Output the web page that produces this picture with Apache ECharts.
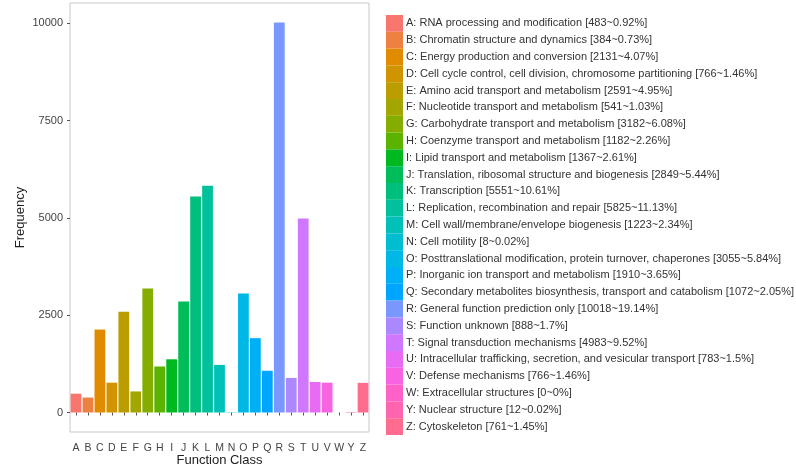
<!DOCTYPE html>
<html>
<head>
<meta charset="utf-8">
<script src="https://cdn.jsdelivr.net/npm/echarts@6/dist/echarts.min.js"></script>
<style>
  html, body { margin: 0; padding: 0; background: #ffffff; }
  #chart { width: 796px; height: 469px; }
</style>
</head>
<body>
<div id="chart"></div>
<script>
// COG functional classes
const classCodes = ['A','B','C','D','E','F','G','H','I','J','K','L','M','N','O','P','Q','R','S','T','U','V','W','Y','Z'];
const classNames = [
  'RNA processing and modification',
  'Chromatin structure and dynamics',
  'Energy production and conversion',
  'Cell cycle control, cell division, chromosome partitioning',
  'Amino acid transport and metabolism',
  'Nucleotide transport and metabolism',
  'Carbohydrate transport and metabolism',
  'Coenzyme transport and metabolism',
  'Lipid transport and metabolism',
  'Translation, ribosomal structure and biogenesis',
  'Transcription',
  'Replication, recombination and repair',
  'Cell wall/membrane/envelope biogenesis',
  'Cell motility',
  'Posttranslational modification, protein turnover, chaperones',
  'Inorganic ion transport and metabolism',
  'Secondary metabolites biosynthesis, transport and catabolism',
  'General function prediction only',
  'Function unknown',
  'Signal transduction mechanisms',
  'Intracellular trafficking, secretion, and vesicular transport',
  'Defense mechanisms',
  'Extracellular structures',
  'Nuclear structure',
  'Cytoskeleton'
];
const classCounts = [483, 384, 2131, 766, 2591, 541, 3182, 1182, 1367, 2849, 5551, 5825, 1223, 8, 3055, 1910, 1072, 10018, 888, 4983, 783, 766, 0, 12, 761];
const classPercents = ['0.92','0.73','4.07','1.46','4.95','1.03','6.08','2.26','2.61','5.44','10.61','11.13','2.34','0.02','5.84','3.65','2.05','19.14','1.7','9.52','1.5','1.46','0','0.02','1.45'];
const yTicks = [0, 2500, 5000, 7500, 10000];

// HCL -> sRGB hex (same conversion as R's grDevices::hcl)
function hclHex(h, c, l) {
  const WY = 100, Wu = 0.1978398, Wv = 0.4683363;
  const rad = h * Math.PI / 180;
  const U = c * Math.cos(rad), V = c * Math.sin(rad);
  const Y = WY * (l > 7.999592 ? Math.pow((l + 16) / 116, 3) : l / 903.3);
  const u = U / (13 * l) + Wu, v = V / (13 * l) + Wv;
  const X = 9 * Y * u / (4 * v);
  const Z = -X / 3 - 5 * Y + 3 * Y / v;
  const g = t => t > 0.00304 ? 1.055 * Math.pow(t, 1 / 2.4) - 0.055 : 12.92 * t;
  const ch = t => Math.round(255 * Math.min(1, Math.max(0, g(t)))).toString(16).padStart(2, '0');
  const r = ( 3.240479 * X - 1.537150 * Y - 0.498535 * Z) / WY;
  const gr = (-0.969256 * X + 1.875992 * Y + 0.041556 * Z) / WY;
  const b = ( 0.055648 * X - 0.204043 * Y + 1.057311 * Z) / WY;
  return '#' + ch(r) + ch(gr) + ch(b);
}
// evenly spaced hue palette
function huePalette(n) {
  const start = 15, end = 375 - 360 / n;
  return Array.from({ length: n }, (_, i) => hclHex(start + (end - start) * i / (n - 1), 100, 65));
}
const palette = huePalette(classCodes.length);

const legendLabels = classCodes.map((c, i) => `${c}: ${classNames[i]} [${classCounts[i]}~${classPercents[i]}%]`);

const maxCount = Math.max(...classCounts);
const yMin = -0.05 * maxCount, yMax = 1.05 * maxCount;

const series = classCodes.map((c, i) => ({
  name: legendLabels[i],
  type: 'bar',
  barGap: '-100%',
  barCategoryGap: '10%',
  itemStyle: { color: palette[i] },
  emphasis: { disabled: true },
  data: classCounts.map((v, j) => (j === i ? v : '-'))
}));

const FONT = 'Liberation Sans, Arial, sans-serif';
const chart = echarts.init(document.getElementById('chart'), null, { renderer: 'canvas' });
chart.setOption({
  animation: false,
  backgroundColor: '#ffffff',
  textStyle: { fontFamily: FONT },
  grid: {
    left: 70, top: 3, width: 299, height: 429,
    outerBoundsMode: 'none',
    containLabel: false,
    show: true, borderColor: '#c8c8c8', borderWidth: 1, backgroundColor: 'transparent'
  },
  xAxis: {
    type: 'category',
    data: classCodes,
    name: 'Function Class',
    nameLocation: 'middle',
    nameGap: 22,
    nameMoveOverlap: false,
    nameTextStyle: { fontSize: 13, color: '#222', fontFamily: FONT },
    axisLine: { show: false },
    axisTick: { show: true, alignWithLabel: true, length: 3, lineStyle: { color: '#555' } },
    axisLabel: { interval: 0, fontSize: 10.5, color: '#444', margin: 11, fontFamily: FONT },
    splitLine: { show: false }
  },
  yAxis: {
    type: 'value',
    min: yMin,
    max: yMax,
    name: 'Frequency',
    nameLocation: 'middle',
    nameGap: 43,
    nameMoveOverlap: false,
    nameRotate: 90,
    nameTextStyle: { fontSize: 13, color: '#222', fontFamily: FONT },
    axisLine: { show: false },
    axisTick: { show: true, length: 3, customValues: yTicks, lineStyle: { color: '#555' } },
    axisLabel: {
      fontSize: 11, color: '#444', margin: 7, customValues: yTicks, fontFamily: FONT,
      formatter: v => String(v)
    },
    splitLine: { show: false }
  },
  legend: {
    orient: 'vertical',
    left: 386,
    top: 15,
    itemWidth: 17,
    itemHeight: 16.8,
    itemGap: 0,
    icon: 'rect',
    padding: 0,
    selectedMode: false,
    textStyle: { fontSize: 11, color: '#333', fontFamily: FONT, padding: [0, 0, 0, -2] },
    data: legendLabels
  },
  series: series
});
</script>
</body>
</html>
